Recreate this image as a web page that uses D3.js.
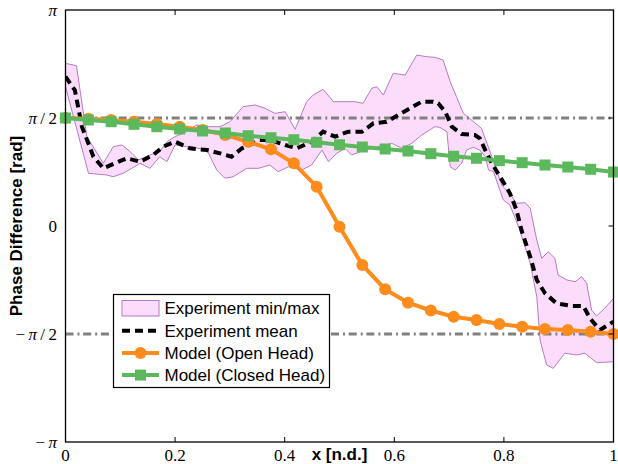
<!DOCTYPE html>
<html>
<head>
<meta charset="utf-8">
<script src="https://cdn.jsdelivr.net/npm/d3@7"></script>
<style>
  body { margin: 0; background: #fff; }
  svg { display: block; }
</style>
</head>
<body>
<script>
const WIDTH = 618;
const HEIGHT = 464;
const PI = Math.PI;

// x positions of the model points (25 evenly spaced nodes)
const modelX = d3.range(25).map(k => k / 24);

const openHead = [1.571, 1.560, 1.540, 1.515, 1.485, 1.445, 1.395, 1.325, 1.225, 1.116,
  0.912, 0.572, -0.010, -0.567, -0.921, -1.116, -1.229, -1.319, -1.367, -1.425,
  -1.464, -1.498, -1.513, -1.537, -1.571];

const closedHead = [1.571, 1.542, 1.517, 1.479, 1.444, 1.411, 1.382, 1.353, 1.313, 1.284,
  1.255, 1.217, 1.182, 1.149, 1.120, 1.091, 1.052, 1.014, 0.985, 0.950,
  0.921, 0.887, 0.858, 0.825, 0.785];

// experiment envelope, upper (max) edge
const expMaxX = [0.000, 0.020, 0.039, 0.069, 0.087, 0.103, 0.118, 0.133, 0.154, 0.172,
  0.185, 0.200, 0.221, 0.239, 0.258, 0.282, 0.300, 0.324, 0.346, 0.364,
  0.382, 0.401, 0.419, 0.440, 0.452, 0.470, 0.489, 0.510, 0.528, 0.543,
  0.559, 0.568, 0.580, 0.598, 0.620, 0.641, 0.659, 0.674, 0.689, 0.702,
  0.726, 0.759, 0.778, 0.796, 0.811, 0.823, 0.839, 0.848, 0.860, 0.869,
  0.881, 0.893, 0.899, 0.915, 0.930, 0.942, 0.951, 0.960, 0.969, 0.984, 1.000];
const expMaxY = [2.366, 2.332, 1.299, 0.912, 1.153, 1.178, 1.081, 0.960, 1.033, 1.081,
  1.226, 1.299, 1.372, 1.469, 1.444, 1.444, 1.517, 1.735, 1.760, 1.712,
  1.639, 1.662, 1.406, 1.808, 1.905, 1.988, 1.808, 1.808, 1.808, 1.785,
  2.003, 2.026, 1.905, 2.221, 2.196, 2.487, 2.462, 2.454, 2.414, 2.099,
  1.639, 1.421, 1.008, 0.596, 0.465, 0.330, 0.339, 0.257, -0.204, -0.470,
  -0.374, -0.470, -0.713, -0.785, -0.810, -0.737, -0.833, -1.222, -1.309, -1.197, -1.052];

// experiment envelope, lower (min) edge
const expMinX = [0.000, 0.042, 0.075, 0.087, 0.105, 0.121, 0.136, 0.154, 0.172, 0.185,
  0.200, 0.221, 0.239, 0.258, 0.276, 0.291, 0.306, 0.331, 0.352, 0.373,
  0.388, 0.407, 0.431, 0.449, 0.468, 0.480, 0.495, 0.510, 0.522, 0.547,
  0.571, 0.595, 0.614, 0.632, 0.650, 0.674, 0.683, 0.696, 0.702, 0.711,
  0.723, 0.732, 0.744, 0.756, 0.766, 0.772, 0.781, 0.799, 0.811, 0.829,
  0.848, 0.860, 0.866, 0.878, 0.890, 0.911, 0.933, 0.948, 0.969, 1.000];
const expMinY = [2.026, 0.766, 0.742, 0.717, 0.766, 0.839, 0.912, 0.839, 1.008, 0.935,
  1.178, 1.153, 1.134, 1.105, 0.814, 0.694, 0.717, 0.839, 0.839, 0.887,
  0.790, 0.862, 0.814, 0.887, 1.105, 0.935, 1.057, 1.130, 1.033, 1.105,
  1.153, 1.203, 1.130, 1.203, 1.324, 1.444, 1.435, 1.372, 0.862, 0.814,
  0.912, 1.105, 1.145, 1.105, 1.008, 0.814, 0.790, 0.378, 0.305, -0.058,
  -0.542, -1.028, -1.658, -2.022, -2.070, -1.851, -1.876, -1.851, -1.988, -1.974];

// experiment mean
const meanX = [0.000, 0.017, 0.030, 0.051, 0.069, 0.090, 0.112, 0.136, 0.160, 0.178,
  0.200, 0.227, 0.258, 0.282, 0.303, 0.322, 0.337, 0.352, 0.373, 0.401,
  0.422, 0.449, 0.470, 0.492, 0.516, 0.541, 0.562, 0.586, 0.607, 0.629,
  0.650, 0.671, 0.680, 0.693, 0.705, 0.723, 0.747, 0.756, 0.766, 0.778,
  0.793, 0.811, 0.823, 0.832, 0.848, 0.860, 0.875, 0.896, 0.924, 0.945,
  0.957, 0.975, 1.000];
const meanY = [2.171, 1.978, 1.444, 1.008, 0.839, 0.912, 0.985, 0.935, 1.033, 1.153,
  1.226, 1.130, 1.105, 1.057, 1.008, 1.130, 1.178, 1.251, 1.251, 1.178,
  1.130, 1.226, 1.372, 1.299, 1.372, 1.372, 1.494, 1.517, 1.614, 1.712,
  1.808, 1.808, 1.785, 1.662, 1.444, 1.338, 1.324, 1.276, 1.105, 0.912,
  0.717, 0.476, 0.233, -0.058, -0.447, -0.785, -0.979, -1.124, -1.164, -1.164,
  -1.342, -1.513, -1.392];

const refLines = [PI / 2, -PI / 2];

const xTicks = [0, 0.2, 0.4, 0.6, 0.8, 1];
const xTickLabels = ['0', '0.2', '0.4', '0.6', '0.8', '1'];
const yTicks = [-PI, -PI / 2, 0, PI / 2, PI];
// [sign, pi, rest]
const yTickLabels = [['\u2212', 'π', ''], ['\u2212', 'π', '\u2009/\u20092'], ['', '', '0'],
  ['', 'π', '\u2009/\u20092'], ['', 'π', '']];

const legendItems = ['Experiment min/max', 'Experiment mean', 'Model (Open Head)', 'Model (Closed Head)'];

const ORANGE = '#fd8c1c';
const GREEN = '#5cb85c';
const BAND_FILL = '#fcdcfb';
const BAND_STROKE = '#b57bc2';

const margin = { left: 65.5, right: 4.5, top: 10, bottom: 22 };
const x = d3.scaleLinear().domain([0, 1]).range([margin.left, WIDTH - margin.right]);
const y = d3.scaleLinear().domain([-PI, PI]).range([HEIGHT - margin.bottom, margin.top]);

const svg = d3.select('body').append('svg')
  .attr('width', WIDTH)
  .attr('height', HEIGHT);

svg.append('clipPath').attr('id', 'plot-clip')
  .append('rect')
  .attr('x', x(0)).attr('y', y(PI))
  .attr('width', x(1) - x(0)).attr('height', y(-PI) - y(PI));

const plot = svg.append('g').attr('clip-path', 'url(#plot-clip)');

// min/max band as one closed polygon
const bandPts = expMaxX.map((v, i) => [v, expMaxY[i]])
  .concat(expMinX.map((v, i) => [v, expMinY[i]]).reverse());
plot.append('path')
  .attr('d', d3.line().x(d => x(d[0])).y(d => y(d[1]))(bandPts) + 'Z')
  .attr('fill', BAND_FILL)
  .attr('stroke', BAND_STROKE)
  .attr('stroke-width', 1);

// +-pi/2 reference lines
plot.selectAll('.ref').data(refLines).enter().append('line')
  .attr('x1', x(0)).attr('x2', x(1))
  .attr('y1', d => y(d)).attr('y2', d => y(d))
  .attr('stroke', '#808080')
  .attr('stroke-width', 3)
  .attr('stroke-dasharray', '8,4,2,3.7');

// experiment mean
plot.append('path')
  .attr('d', d3.line().x(d => x(d)).y((d, i) => y(meanY[i]))(meanX))
  .attr('fill', 'none')
  .attr('stroke', '#000')
  .attr('stroke-width', 4)
  .attr('stroke-dasharray', '8,5');

// models
const modelLine = vals => d3.line().x((d, i) => x(modelX[i])).y(d => y(d))(vals);

svg.append('path')
  .attr('d', modelLine(openHead))
  .attr('fill', 'none')
  .attr('stroke', ORANGE)
  .attr('stroke-width', 4);
svg.selectAll('.open').data(openHead).enter().append('circle')
  .attr('cx', (d, i) => x(modelX[i]))
  .attr('cy', d => y(d))
  .attr('r', 6)
  .attr('fill', ORANGE);

svg.append('path')
  .attr('d', modelLine(closedHead))
  .attr('fill', 'none')
  .attr('stroke', GREEN)
  .attr('stroke-width', 4);
svg.selectAll('.closed').data(closedHead).enter().append('rect')
  .attr('x', (d, i) => x(modelX[i]) - 5.5)
  .attr('y', d => y(d) - 5.5)
  .attr('width', 11)
  .attr('height', 11)
  .attr('fill', GREEN);

// frame and inward ticks
svg.append('rect')
  .attr('x', x(0)).attr('y', y(PI))
  .attr('width', x(1) - x(0)).attr('height', y(-PI) - y(PI))
  .attr('fill', 'none')
  .attr('stroke', '#000')
  .attr('stroke-width', 1.3);

const tickLen = 5;
const inner = xTicks.slice(1, -1);
svg.selectAll('.xt-b').data(inner).enter().append('line')
  .attr('x1', d => x(d)).attr('x2', d => x(d))
  .attr('y1', y(-PI)).attr('y2', y(-PI) - tickLen)
  .attr('stroke', '#000');
svg.selectAll('.xt-t').data(inner).enter().append('line')
  .attr('x1', d => x(d)).attr('x2', d => x(d))
  .attr('y1', y(PI)).attr('y2', y(PI) + tickLen)
  .attr('stroke', '#000');
svg.selectAll('.yt-r').data(yTicks.slice(1, -1)).enter().append('line')
  .attr('x1', x(1)).attr('x2', x(1) - tickLen)
  .attr('y1', d => y(d)).attr('y2', d => y(d))
  .attr('stroke', '#000');

// tick labels
svg.selectAll('.xl').data(xTicks).enter().append('text')
  .attr('x', d => x(d))
  .attr('y', HEIGHT - 3)
  .attr('text-anchor', 'middle')
  .attr('font-family', 'Liberation Serif, serif')
  .attr('font-size', 17)
  .text((d, i) => xTickLabels[i]);

const yl = svg.selectAll('.yl').data(yTicks).enter().append('text')
  .attr('x', 57)
  .attr('y', d => y(d))
  .attr('dy', '0.35em')
  .attr('text-anchor', 'end')
  .attr('font-family', 'Liberation Serif, serif')
  .attr('font-size', 17);
yl.append('tspan').text((d, i) => yTickLabels[i][0] ? yTickLabels[i][0] + '\u2009' : '');
yl.append('tspan').attr('font-style', 'italic').text((d, i) => yTickLabels[i][1]);
yl.append('tspan').text((d, i) => yTickLabels[i][2]);

// axis titles
svg.append('text')
  .attr('x', (x(0) + x(1)) / 2)
  .attr('y', HEIGHT - 4)
  .attr('text-anchor', 'middle')
  .attr('font-family', 'Liberation Sans, Arial, sans-serif')
  .attr('font-weight', 'bold')
  .attr('font-size', 17)
  .text('x [n.d.]');

svg.append('text')
  .attr('transform', `translate(22,${y(0)}) rotate(-90)`)
  .attr('text-anchor', 'middle')
  .attr('font-family', 'Liberation Sans, Arial, sans-serif')
  .attr('font-weight', 'bold')
  .attr('font-size', 17)
  .text('Phase Difference [rad]');

// legend
const lg = svg.append('g').attr('transform', 'translate(113.5,294.5)');
lg.append('rect')
  .attr('width', 216).attr('height', 93)
  .attr('fill', '#fff')
  .attr('stroke', '#000')
  .attr('stroke-width', 1.2);

const rowY = i => 14 + i * 22.2;
const hx0 = 8.5, hx1 = 45.5, hxm = (hx0 + hx1) / 2;

lg.append('rect')
  .attr('x', hx0).attr('y', rowY(0) - 8)
  .attr('width', hx1 - hx0).attr('height', 15.5)
  .attr('fill', BAND_FILL)
  .attr('stroke', BAND_STROKE);
lg.append('line')
  .attr('x1', hx0).attr('x2', hx1).attr('y1', rowY(1)).attr('y2', rowY(1))
  .attr('stroke', '#000').attr('stroke-width', 4).attr('stroke-dasharray', '8,5');
lg.append('line')
  .attr('x1', hx0).attr('x2', hx1).attr('y1', rowY(2)).attr('y2', rowY(2))
  .attr('stroke', ORANGE).attr('stroke-width', 4);
lg.append('circle')
  .attr('cx', hxm).attr('cy', rowY(2)).attr('r', 6).attr('fill', ORANGE);
lg.append('line')
  .attr('x1', hx0).attr('x2', hx1).attr('y1', rowY(3)).attr('y2', rowY(3))
  .attr('stroke', GREEN).attr('stroke-width', 4);
lg.append('rect')
  .attr('x', hxm - 5.5).attr('y', rowY(3) - 5.5).attr('width', 11).attr('height', 11)
  .attr('fill', GREEN);

lg.selectAll('.lt').data(legendItems).enter().append('text')
  .attr('x', 51)
  .attr('y', (d, i) => rowY(i))
  .attr('dy', '0.35em')
  .attr('font-family', 'Liberation Sans, Arial, sans-serif')
  .attr('font-size', 17)
  .text(d => d);
</script>
</body>
</html>
